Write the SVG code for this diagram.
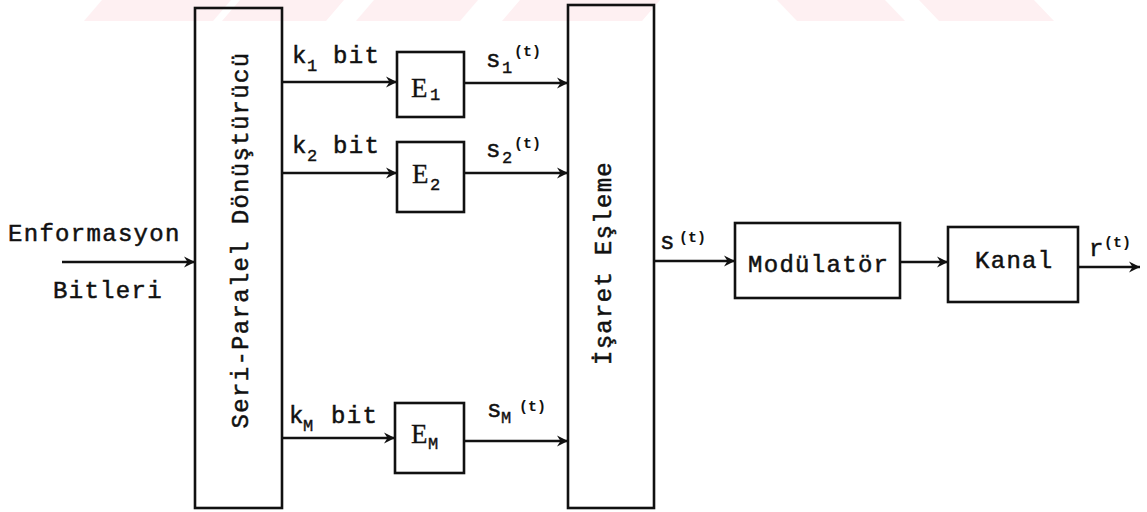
<svg xmlns="http://www.w3.org/2000/svg" width="1147" height="512" viewBox="0 0 1147 512">
  <style>
    .box { fill: none; stroke: #111; stroke-width: 2.6; }
    .wire { fill: none; stroke: #111; stroke-width: 2.6; }
    .t { font-family: "Liberation Mono", "Courier New", monospace; font-size: 24px; letter-spacing: 1.3px; fill: #111; stroke: #111; stroke-width: 0.5; }
    .sub { font-family: "Liberation Mono", "Courier New", monospace; font-size: 17px; fill: #111; stroke: #111; stroke-width: 0.4; }
    .sup { font-family: "Liberation Mono", "Courier New", monospace; font-size: 15px; font-weight: bold; fill: #111; }
    .big { font-family: "Liberation Serif", "Times New Roman", serif; font-size: 27px; fill: #111; stroke: #111; stroke-width: 0.3; }
    .wm { fill: #fef0f2; }
  </style>
  <defs>
    <marker id="arrow" markerUnits="userSpaceOnUse" markerWidth="12" markerHeight="12" refX="11" refY="6" orient="auto">
      <path d="M0,0.5 L11,6 L0,11.5 L3.5,6 z" fill="#111"/>
    </marker>
  </defs>

  <rect width="1147" height="512" fill="#fff"/>

  <!-- faint banner stripes along the top edge -->
  <g id="banner">
    <polygon class="wm" points="84,21 102,0 231,0 213,21"/>
    <polygon class="wm" points="222,21 240,0 344,0 326,21"/>
    <polygon class="wm" points="356,21 374,0 478,0 460,21"/>
    <polygon class="wm" points="502,21 520,0 660,0 642,21"/>
    <polygon class="wm" points="777,0 885,0 905,21 797,21"/>
    <polygon class="wm" points="919,0 1034,0 1054,21 939,21"/>
  </g>

  <!-- input label -->
  <g id="input">
    <text class="t" x="8" y="241">Enformasyon</text>
    <text class="t" x="53" y="298">Bitleri</text>
  </g>

  <!-- serial to parallel converter -->
  <g id="seri-paralel">
    <rect class="box" x="195" y="8" width="87" height="500"/>
    <text class="t" text-anchor="middle" transform="translate(248,240) rotate(-90)">Seri-Paralel Dönüştürücü</text>
  </g>

  <!-- encoders -->
  <g id="e1">
    <rect class="box" x="397" y="52" width="67" height="65"/>
    <text class="big" x="411" y="97">E</text>
    <text class="sub" x="430" y="100">1</text>
  </g>
  <g id="e2">
    <rect class="box" x="397" y="142" width="67" height="70"/>
    <text class="big" x="412" y="183">E</text>
    <text class="sub" x="430" y="190">2</text>
  </g>
  <g id="em">
    <rect class="box" x="395" y="403" width="69" height="70"/>
    <text class="big" x="411" y="443">E</text>
    <text class="sub" x="428" y="449">M</text>
  </g>

  <!-- signal mapping -->
  <g id="isaret-esleme">
    <rect class="box" x="568" y="5" width="86" height="503"/>
    <text class="t" text-anchor="middle" transform="translate(611,263) rotate(-90)">İşaret Eşleme</text>
  </g>

  <!-- modulator -->
  <g id="modulator">
    <rect class="box" x="735" y="223" width="165" height="75"/>
    <text class="t" x="748" y="272">Modülatör</text>
  </g>

  <!-- channel -->
  <g id="kanal">
    <rect class="box" x="948" y="227" width="130" height="75"/>
    <text class="t" x="975" y="268">Kanal</text>
  </g>

  <!-- connectors -->
  <g id="connectors">
    <line class="wire" x1="62" y1="262" x2="195" y2="262" marker-end="url(#arrow)"/>
    <line class="wire" x1="282" y1="82" x2="397" y2="82" marker-end="url(#arrow)"/>
    <line class="wire" x1="282" y1="173" x2="397" y2="173" marker-end="url(#arrow)"/>
    <line class="wire" x1="282" y1="438" x2="395" y2="438" marker-end="url(#arrow)"/>
    <line class="wire" x1="464" y1="83" x2="568" y2="83" marker-end="url(#arrow)"/>
    <line class="wire" x1="464" y1="173" x2="568" y2="173" marker-end="url(#arrow)"/>
    <line class="wire" x1="464" y1="441" x2="568" y2="441" marker-end="url(#arrow)"/>
    <line class="wire" x1="654" y1="261" x2="735" y2="261" marker-end="url(#arrow)"/>
    <line class="wire" x1="900" y1="262" x2="948" y2="262" marker-end="url(#arrow)"/>
    <line class="wire" x1="1078" y1="267" x2="1140" y2="267" marker-end="url(#arrow)"/>
  </g>

  <!-- connector labels -->
  <g id="connector-labels">
    <text class="t" x="292" y="63">k</text>
    <text class="sub" x="307" y="71">1</text>
    <text class="t" x="333" y="63">bit</text>

    <text class="t" x="292" y="153">k</text>
    <text class="sub" x="307" y="161">2</text>
    <text class="t" x="333" y="153">bit</text>

    <text class="t" x="289" y="423">k</text>
    <text class="sub" x="303" y="431">M</text>
    <text class="t" x="331" y="423">bit</text>

    <text class="t" x="486" y="67">s</text>
    <text class="sub" x="502" y="73">1</text>
    <text class="sup" x="514" y="56">(t)</text>

    <text class="t" x="486" y="157">s</text>
    <text class="sub" x="502" y="163">2</text>
    <text class="sup" x="514" y="148">(t)</text>

    <text class="t" x="487" y="417">s</text>
    <text class="sub" x="501" y="423">M</text>
    <text class="sup" x="519" y="411">(t)</text>

    <text class="t" x="660" y="249">s</text>
    <text class="sup" x="679" y="242">(t)</text>

    <text class="t" x="1089" y="256">r</text>
    <text class="sup" x="1104" y="247">(t)</text>
  </g>
</svg>
